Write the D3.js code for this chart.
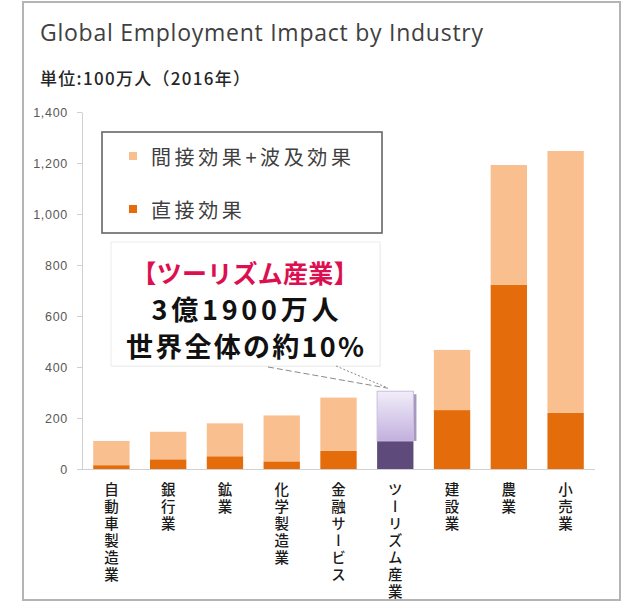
<!DOCTYPE html>
<html>
<head>
<meta charset="utf-8">
<title>Global Employment Impact by Industry</title>
<script src="https://d3js.org/d3.v7.min.js"></script>
<style>
  body { margin: 0; background: #fff; }
  text { font-family: "Noto Sans CJK JP", "Noto Sans", sans-serif; }
</style>
</head>
<body>
<svg id="chart"></svg>
<script>
// data (units: million people, 2016)
var categories = ["自動車製造業", "銀行業", "鉱業", "化学製造業", "金融サービス", "ツーリズム産業", "建設業", "農業", "小売業"];
var directValues = [15, 38, 50, 30, 71, 110, 231, 722, 220];
var indirectValues = [95, 108, 129, 180, 209, 195, 236, 470, 1027];
var yTicks = [0, 200, 400, 600, 800, 1000, 1200, 1400];
var seriesNames = ["直接効果", "間接効果+波及効果"];
var highlight = "ツーリズム産業";
var noteLines = ["【ツーリズム産業】", "3億1900万人", "世界全体の約10%"];

var W = 634, H = 605;
var svg = d3.select("#chart").attr("width", W).attr("height", H);

// defs: gradient for the highlighted bar
var defs = svg.append("defs");
var grad = defs.append("linearGradient").attr("id", "purpleGrad")
  .attr("x1", 0).attr("y1", 0).attr("x2", 0).attr("y2", 1);
grad.append("stop").attr("offset", "0%").attr("stop-color", "#f1edf9");
grad.append("stop").attr("offset", "100%").attr("stop-color", "#c2b0de");

// outer frame
svg.append("rect")
  .attr("x", 23).attr("y", 2).attr("width", 597).attr("height", 598)
  .attr("fill", "#fff").attr("stroke", "#b4b4b4").attr("stroke-width", 2);

// title + unit
svg.append("text").attr("x", 40).attr("y", 41)
  .style("font-family", "'Open Sans', sans-serif")
  .style("font-size", "23px").attr("fill", "#404040")
  .attr("textLength", 443).attr("lengthAdjust", "spacing")
  .text("Global Employment Impact by Industry");
svg.append("text").attr("x", 40).attr("y", 85)
  .style("font-size", "17px").style("font-weight", 500).attr("fill", "#262626")
  .attr("textLength", 210).attr("lengthAdjust", "spacing")
  .text("単位:100万人（2016年）");

var x = d3.scaleBand().domain(categories).range([83, 594])
  .paddingInner(0.36).paddingOuter(0.18);
var y = d3.scaleLinear().domain([0, 1400]).range([469, 112]);

var rows = categories.map(function(c, i) {
  return {cat: c, direct: directValues[i], indirect: indirectValues[i]};
});
var stacked = d3.stack().keys(["direct", "indirect"])(rows);

// y axis
var yAxis = svg.append("g").attr("transform", "translate(82,0)")
  .call(d3.axisLeft(y).tickValues(yTicks).tickSize(5).tickSizeOuter(0)
    .tickPadding(9).tickFormat(d3.format(",")));
yAxis.select(".domain").attr("stroke", "#d0d0d0");
yAxis.selectAll(".tick line").attr("stroke", "#d0d0d0");
yAxis.selectAll(".tick text")
  .style("font-family", "'Liberation Sans', Arial, sans-serif")
  .style("font-size", "12.5px").style("letter-spacing", "0.7px").attr("fill", "#595959");

// bars
var colors = {direct: "#e46c0a", indirect: "#f9bf8f"};
var hiColors = {direct: "#5f4b7b", indirect: "url(#purpleGrad)"};

stacked.forEach(function(layer) {
  var g = svg.append("g");
  g.selectAll("rect.shadow")
    .data(layer.filter(function(d) { return d.data.cat == highlight && layer.key == "indirect"; }))
    .enter().append("rect")
    .attr("x", function(d) { return x(d.data.cat) + 3; })
    .attr("y", function(d) { return y(d[1]) + 3; })
    .attr("width", x.bandwidth())
    .attr("height", function(d) { return y(d[0]) - y(d[1]) - 3; })
    .attr("fill", "#a898c0");
  g.selectAll("rect.bar")
    .data(layer)
    .enter().append("rect")
    .attr("x", function(d) { return x(d.data.cat); })
    .attr("y", function(d) { return y(d[1]); })
    .attr("width", x.bandwidth())
    .attr("height", function(d) { return y(d[0]) - y(d[1]); })
    .attr("fill", function(d) {
      return d.data.cat == highlight ? hiColors[layer.key] : colors[layer.key];
    })
    .attr("stroke", function(d) {
      return d.data.cat == highlight && layer.key == "indirect" ? "#c9bddc" : "none";
    });
});

// x axis with vertical labels
var xAxis = svg.append("g").attr("transform", "translate(0,469)")
  .call(d3.axisBottom(x).tickSize(0).tickSizeOuter(0));
xAxis.select(".domain").attr("d", "M82,0.5H595").attr("stroke", "#d0d0d0");
xAxis.selectAll(".tick text")
  .attr("y", 13).attr("dy", null)
  .style("writing-mode", "vertical-rl")
  .style("text-anchor", "start")
  .style("font-size", "14.5px")
  .style("font-weight", 500)
  .style("letter-spacing", "2.5px")
  .attr("fill", "#1a1a1a");

// legend
var legend = svg.append("g");
legend.append("rect").attr("x", 102).attr("y", 132).attr("width", 280).attr("height", 101)
  .attr("fill", "#fff").attr("stroke", "#666").attr("stroke-width", 1.6);
var legendItems = [
  {name: seriesNames[1], color: colors.indirect, yy: 156},
  {name: seriesNames[0], color: colors.direct, yy: 209}
];
legendItems.forEach(function(it) {
  legend.append("rect").attr("x", 129).attr("y", it.yy - 4).attr("width", 8).attr("height", 8)
    .attr("fill", it.color);
  legend.append("text").attr("x", 151).attr("y", it.yy)
    .attr("dominant-baseline", "central")
    .style("font-size", "20px").style("letter-spacing", "3.6px")
    .attr("fill", "#404040").text(it.name);
});

// annotation box
var note = svg.append("g");
note.append("rect").attr("x", 112).attr("y", 243).attr("width", 269).attr("height", 124)
  .attr("fill", "#f2f2f2");
note.append("rect").attr("x", 111).attr("y", 242).attr("width", 269).attr("height", 124)
  .attr("fill", "#fff").attr("stroke", "#ececec").attr("stroke-width", 1);
var noteY = [272, 308, 345];
var noteW = [227, 187, 238];
var noteSize = [25, 27, 27];
noteLines.forEach(function(t, i) {
  note.append("text").attr("x", 245).attr("y", noteY[i])
    .attr("text-anchor", "middle").attr("dominant-baseline", "central")
    .attr("textLength", noteW[i]).attr("lengthAdjust", "spacing")
    .style("font-size", noteSize[i] + "px").style("font-weight", "bold")
    .attr("fill", i == 0 ? "#dc0f50" : "#111")
    .text(t);
});

// leader lines from the note to the tourism bar
var hiIdx = categories.indexOf(highlight);
var ex = x(highlight) + x.bandwidth() * 0.3;
var ey = y(directValues[hiIdx] + indirectValues[hiIdx]) - 3;
svg.append("line").attr("x1", 268).attr("y1", 367).attr("x2", ex).attr("y2", ey)
  .attr("stroke", "#8a8a8a").attr("stroke-width", 1).attr("stroke-dasharray", "6,3");
svg.append("line").attr("x1", 336).attr("y1", 366).attr("x2", ex - 2).attr("y2", ey - 1)
  .attr("stroke", "#8a8a8a").attr("stroke-width", 1).attr("stroke-dasharray", "2,2");
</script>
</body>
</html>
